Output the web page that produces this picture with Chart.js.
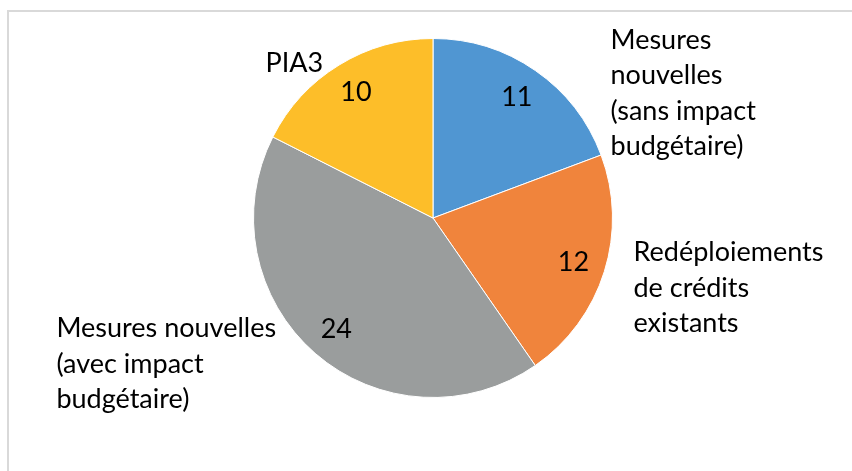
<!DOCTYPE html>
<html>
<head>
<meta charset="utf-8">
<script src="https://cdn.jsdelivr.net/npm/chart.js@4"></script>
<style>
    html, body { margin: 0; padding: 0; background: #fff; overflow: hidden; }
    #wrap { position: relative; width: 852px; height: 471px; }
    #frame {
        position: absolute; left: 7px; top: 10px; width: 900px; height: 520px;
        border-left: 2px solid #d9d9d9; border-top: 2px solid #d9d9d9;
    }
    #chart { position: absolute; left: 0; top: 0; }
</style>
</head>
<body>
<div id="wrap">
    <div id="frame"></div>
    <canvas id="chart" width="852" height="471"></canvas>
</div>
<script>
// data
const categories = [
    ['Mesures', 'nouvelles', '(sans impact', 'budgétaire)'],
    ['Redéploiements', 'de crédits', 'existants'],
    ['Mesures nouvelles', '(avec impact', 'budgétaire)'],
    ['PIA3']
];
const values = [11, 12, 24, 10];
const colors = ['#5096d2', '#f0843c', '#9a9d9d', '#fdbe29'];

(function() {
    const fontFamily = 'Lato, "Open Sans", sans-serif';
    const fontSize = 27;
    const lineHeight = 35.5;

    // where each category label sits, in radius units from the pie centre
    // (left edge of text, first baseline)
    const labelOffsets = [
        [0.989, -0.944],
        [1.117, 0.240],
        [-2.098, 0.665],
        [-0.933, -0.816]
    ];

    const pieLabels = {
        id: 'pieLabels',
        afterDatasetsDraw(chart) {
            const ctx = chart.ctx;
            const meta = chart.getDatasetMeta(0);
            ctx.save();
            ctx.fillStyle = '#000';
            ctx.font = fontSize + 'px ' + fontFamily;
            meta.data.forEach(function(arc, i) {
                const p = arc.getProps(['x', 'y', 'startAngle', 'endAngle', 'outerRadius'], true);
                const mid = (p.startAngle + p.endAngle) / 2;
                const r = p.outerRadius * 0.82;

                // value inside slice
                ctx.textAlign = 'center';
                ctx.textBaseline = 'middle';
                ctx.fillText(String(values[i]), p.x + Math.cos(mid) * r, p.y + Math.sin(mid) * r);

                // category outside
                ctx.textAlign = 'left';
                ctx.textBaseline = 'alphabetic';
                const off = labelOffsets[i];
                const lx = p.x + off[0] * p.outerRadius;
                const ly = p.y + off[1] * p.outerRadius;
                categories[i].forEach(function(line, j) {
                    ctx.fillText(line, lx, ly + j * lineHeight);
                });
            });
            ctx.restore();
        }
    };

    new Chart(document.getElementById('chart'), {
        type: 'pie',
        data: {
            labels: categories.map(function(c) { return c.join(' '); }),
            datasets: [{
                data: values,
                backgroundColor: colors,
                borderColor: '#ffffff',
                borderWidth: 1
            }]
        },
        options: {
            responsive: false,
            animation: false,
            layout: {
                padding: { left: 253, right: 239, top: 38, bottom: 73 }
            },
            plugins: {
                legend: { display: false },
                tooltip: { enabled: false }
            }
        },
        plugins: [pieLabels]
    });
})();
</script>
</body>
</html>
